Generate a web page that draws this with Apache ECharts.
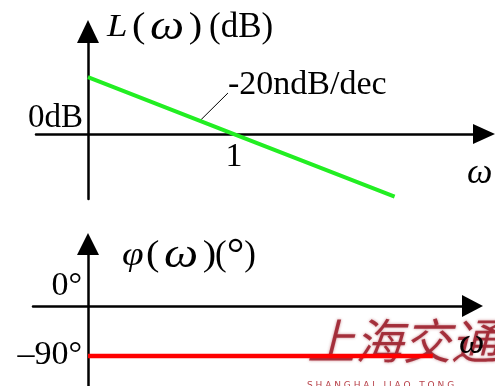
<!DOCTYPE html>
<html>
<head>
<meta charset="utf-8">
<script src="https://cdn.jsdelivr.net/npm/echarts@6/dist/echarts.min.js"></script>
<style>
  html, body { margin: 0; padding: 0; background: #fff; }
  #chart { width: 495px; height: 386px; }
</style>
</head>
<body>
<div id="chart"></div>
<script>
// Asymptotic Bode plot of an integrating element: magnitude (dB) and phase (deg)
const magOmega = [0.1, 1, 12.6];          // rad/s, log scale
const magDb = [20, 0, -22];               // L(ω) in dB
const phaseOmega = [0.1, 23];             // rad/s
const phaseDeg = [-90, -90];              // φ(ω) in degrees
const slopeLeaderOmega = [0.585, 0.91];   // leader line for the slope note
const slopeLeaderDb = [4.66, 14.4];
const slopeNote = '-20ndB/dec';
const magTicks = [0];
const magTickText = ['0dB'];
const phaseTicks = [0, -90];
const phaseTickText = ['0°', '–90°'];
const omegaTicks = [1];

const serif = '"Liberation Serif", "Times New Roman", serif';
const axisColor = '#000';

const chart = echarts.init(document.getElementById('chart'), null, { renderer: 'canvas' });

function pairs(xs, ys) { return xs.map((x, i) => [x, ys[i]]); }

const option = {
  animation: false,
  backgroundColor: '#fff',
  grid: [
    { left: 36, right: 11, top: 31.5, bottom: 187, containLabel: false },
    { left: 33, right: 22.5, top: 244, bottom: 0, containLabel: false }
  ],
  xAxis: [
    {
      // horizontal axis drawn through 0 dB
      gridIndex: 0, type: 'log', logBase: 10, min: 0.0441, max: 51.6,
      position: 'bottom', offset: -65,
      axisLine: { onZero: false, lineStyle: { color: axisColor, width: 2.5 },
                  symbol: ['none', 'triangle'], symbolSize: [20, 22] },
      axisTick: { show: false }, splitLine: { show: false },
      axisLabel: {
        margin: 6, color: '#000', fontFamily: serif, fontSize: 34,
        showMinLabel: false, showMaxLabel: false,
        formatter: v => (omegaTicks.some(t => Math.abs(v - t) < 1e-9) ? String(v) : '')
      }
    },
    {
      // horizontal axis drawn through 0°
      gridIndex: 1, type: 'log', logBase: 10, min: 0.042, max: 43.0,
      position: 'bottom', offset: -80,
      axisLine: { onZero: false, lineStyle: { color: axisColor, width: 2.5 },
                  symbol: ['none', 'triangle'], symbolSize: [22, 21] },
      axisTick: { show: false }, splitLine: { show: false },
      axisLabel: { show: false }
    }
  ],
  yAxis: [
    {
      gridIndex: 0, type: 'value', min: -22.8, max: 36.0, offset: -52,
      axisLine: { show: true, onZero: false, lineStyle: { color: axisColor, width: 2.5 },
                  symbol: ['none', 'triangle'], symbolSize: [22, 23] },
      axisTick: { show: false }, splitLine: { show: false },
      axisLabel: {
        customValues: magTicks, margin: 5, color: '#000',
        formatter: v => '{up|' + magTickText[magTicks.indexOf(v)] + '}',
        rich: { up: { fontFamily: serif, fontSize: 33, padding: [0, 0, 32, 0] } }
      }
    },
    {
      gridIndex: 1, type: 'value', min: -144, max: 111.6, offset: -55,
      axisLine: { show: true, onZero: false, lineStyle: { color: axisColor, width: 2.5 },
                  symbol: ['none', 'triangle'], symbolSize: [22, 22] },
      axisTick: { show: false }, splitLine: { show: false },
      axisLabel: {
        customValues: phaseTicks, margin: 6, color: '#000',
        formatter: v => (v === 0 ? '{up|' : '{mid|') + phaseTickText[phaseTicks.indexOf(v)] + '}',
        rich: {
          up: { fontFamily: serif, fontSize: 34, padding: [0, 0, 39, 0] },
          mid: { fontFamily: serif, fontSize: 34, padding: [0, 0, 2, 0] }
        }
      }
    }
  ],
  series: [
    {
      name: 'L', type: 'line', xAxisIndex: 0, yAxisIndex: 0,
      data: pairs(magOmega, magDb), showSymbol: false, symbol: 'none', z: 5,
      lineStyle: { color: '#22ee22', width: 4 },
      markLine: {
        silent: true, symbol: ['none', 'none'], animation: false,
        lineStyle: { color: '#000', width: 1, type: 'solid' },
        label: { show: false },
        data: [[
          { coord: [slopeLeaderOmega[0], slopeLeaderDb[0]] },
          { coord: [slopeLeaderOmega[1], slopeLeaderDb[1]] }
        ]]
      }
    },
    {
      name: 'φ', type: 'line', xAxisIndex: 1, yAxisIndex: 1,
      data: pairs(phaseOmega, phaseDeg), showSymbol: false, symbol: 'none', z: 5,
      lineStyle: { color: '#ff0000', width: 4.5 }
    }
  ],
  graphic: [
    // university mark behind the phase curve
    {
      type: 'text', x: 307, y: 317, z: 1, silent: true,
      style: {
        text: '上海交通', fill: 'rgba(150,16,30,0.8)',
        font: 'italic 48px "Noto Sans CJK SC"', verticalAlign: 'top',
        textShadowColor: 'rgba(150,16,30,0.6)', textShadowBlur: 3
      }
    },
    {
      type: 'text', x: 307, y: 381, z: 1, silent: true,
      style: {
        text: 'S H A N G H A I   J I A O   T O N G', fill: 'rgba(170,30,40,0.85)',
        font: '9px "DejaVu Sans"', verticalAlign: 'top'
      }
    },
    // slope note next to the leader line
    {
      type: 'text', x: 228, y: 68, z: 100,
      style: { text: slopeNote, font: '34px "Liberation Serif"', fill: '#000', verticalAlign: 'top' }
    },
    // magnitude axis title: L(ω)(dB)
    {
      type: 'text', x: 107, y: 28, scaleX: 1.15, z: 100,
      style: {
        text: '{L|L}{n|(}{w|ω}{n|)}', verticalAlign: 'middle',
        rich: {
          L: { fontFamily: serif, fontStyle: 'italic', fontSize: 32, fill: '#000', padding: [0, 4, 0, 0] },
          w: { fontFamily: serif, fontStyle: 'italic', fontSize: 42, fill: '#000', padding: [0, 4, 0, 4] },
          n: { fontFamily: serif, fontSize: 35, fill: '#000' }
        }
      }
    },
    {
      type: 'text', x: 209, y: 28, z: 100,
      style: { text: '(dB)', font: '35px "Liberation Serif"', fill: '#000', verticalAlign: 'middle' }
    },
    // phase axis title: φ(ω)(°)
    {
      type: 'text', x: 122, y: 256, scaleX: 1.15, z: 100,
      style: {
        text: '{f|φ}{n|(}{w|ω}{n|)}', verticalAlign: 'middle',
        rich: {
          f: { fontFamily: serif, fontStyle: 'italic', fontSize: 34, fill: '#000', padding: [0, 2, 0, 0] },
          w: { fontFamily: serif, fontStyle: 'italic', fontSize: 42, fill: '#000', padding: [0, 4, 0, 4] },
          n: { fontFamily: serif, fontSize: 35, fill: '#000' }
        }
      }
    },
    {
      type: 'text', x: 215, y: 256, z: 100,
      style: {
        text: '{n|(}{d|°}{n|)}', verticalAlign: 'middle',
        rich: {
          d: { fontFamily: serif, fontSize: 44, fill: '#000' },
          n: { fontFamily: serif, fontSize: 35, fill: '#000' }
        }
      }
    },
    // frequency axis names
    {
      type: 'text', x: 467, y: 156, z: 100,
      style: { text: 'ω', font: 'italic 36px "Liberation Serif"', fill: '#000', verticalAlign: 'top' }
    },
    {
      type: 'text', x: 459, y: 326, z: 100,
      style: { text: 'ω', font: 'italic 36px "Liberation Serif"', fill: '#000', verticalAlign: 'top' }
    }
  ]
};

chart.setOption(option);
</script>
</body>
</html>
